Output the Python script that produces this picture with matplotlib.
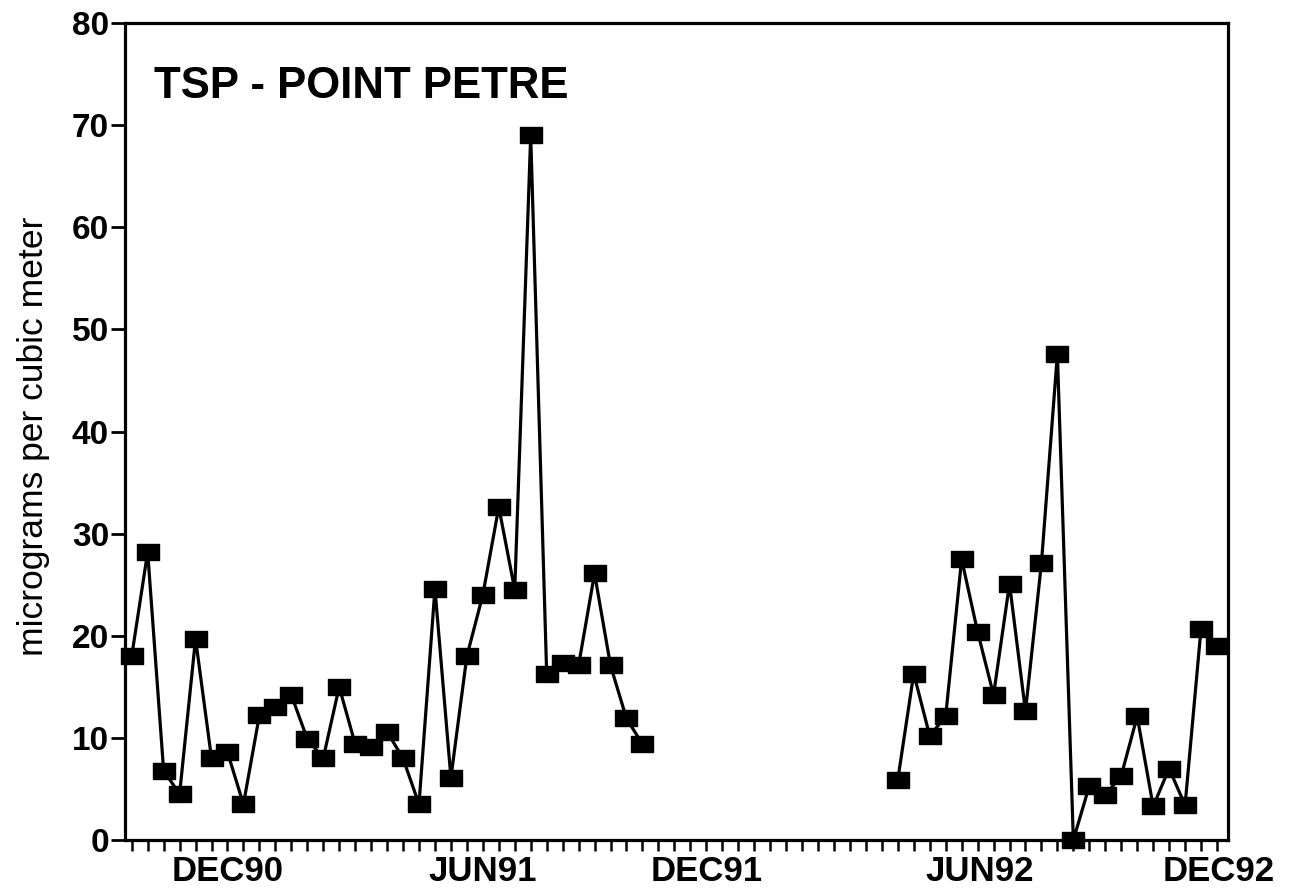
import numpy as np
import matplotlib
matplotlib.use("Agg")
import matplotlib.pyplot as plt
from matplotlib import font_manager

# ---- data (sample number order; NaN = no sample) ----
tsp_first = [18.0, 28.2, 6.8, 4.5, 19.7, 8.0, 8.6, 3.5, 12.2, 13.0, 14.2, 9.9,
             8.0, 15.0, 9.4, 9.1, 10.6, 8.0, 3.5, 24.6, 6.1, 18.0, 24.0, 32.6,
             24.5, 69.0, 16.3, 17.3, 17.1, 26.1, 17.1, 11.9, 9.4]
n_missing = 15
tsp_second = [5.9, 16.3, 10.2, 12.1, 27.5, 20.4, 14.2, 25.1, 12.6, 27.1, 47.6,
              0.0, 5.3, 4.4, 6.3, 12.1, 3.3, 7.0, 3.4, 20.7, 19.0]
date_labels = ["DEC90", "JUN91", "DEC91", "JUN92", "DEC92"]
date_label_samples = [6.03, 21.98, 36.05, 53.15, 68.13]
y_ticks = [0, 10, 20, 30, 40, 50, 60, 70, 80]

values = np.array(tsp_first + [np.nan] * n_missing + tsp_second, dtype=float)
samples = np.arange(len(values))

names = {f.name for f in font_manager.fontManager.ttflist}
base = "Liberation Sans" if "Liberation Sans" in names else "DejaVu Sans"
plt.rcParams['font.family'] = [base, 'DejaVu Sans']

fig = plt.figure(figsize=(12.89, 8.93), dpi=100)
ax = fig.add_axes([125 / 1289, 1 - 840 / 893, (1228 - 125) / 1289, (840 - 23) / 893])

rect = [(-1.35, -1), (1.35, -1), (1.35, 1), (-1.35, 1), (-1.35, -1)]
ax.plot(samples, values, color='black', lw=2.3, marker=rect, markersize=15.6,
        markerfacecolor='black', markeredgecolor='black', clip_on=False, zorder=3)

ax.set_xlim(-0.42, 68.69)
ax.set_ylim(0, 80)

ax.set_yticks(y_ticks)
ax.set_yticklabels([str(v) for v in y_ticks], fontsize=24, fontweight='bold')
ax.tick_params(axis='y', length=10, width=2, pad=1.5, direction='out')

ax.set_xticks(date_label_samples)
ax.set_xticklabels(date_labels, fontsize=25, fontweight='bold')
ax.tick_params(axis='x', which='major', length=0, pad=11)
ax.set_xticks(samples, minor=True)
ax.tick_params(axis='x', which='minor', length=8, width=1.8, direction='out')

for s in ax.spines.values():
    s.set_linewidth(2.3)
    s.set_color('black')

# title inside the plot
if "Liberation Sans Narrow" in names:
    fig.text(154 / 1289, 1 - 98 / 893, "TSP - POINT PETRE", family="Liberation Sans Narrow",
             fontsize=36, fontweight='bold', ha='left', va='baseline')
else:
    fig.text(154 / 1289, 1 - 98 / 893, "TSP - POINT PETRE", fontsize=31.5,
             fontweight='bold', ha='left', va='baseline')

fig.text(34 / 1289, 1 - 436 / 893, "micrograms per cubic meter", rotation=90,
         fontsize=25.5, ha='center', va='center')

fig.savefig("out.png", dpi=100, facecolor='white')
